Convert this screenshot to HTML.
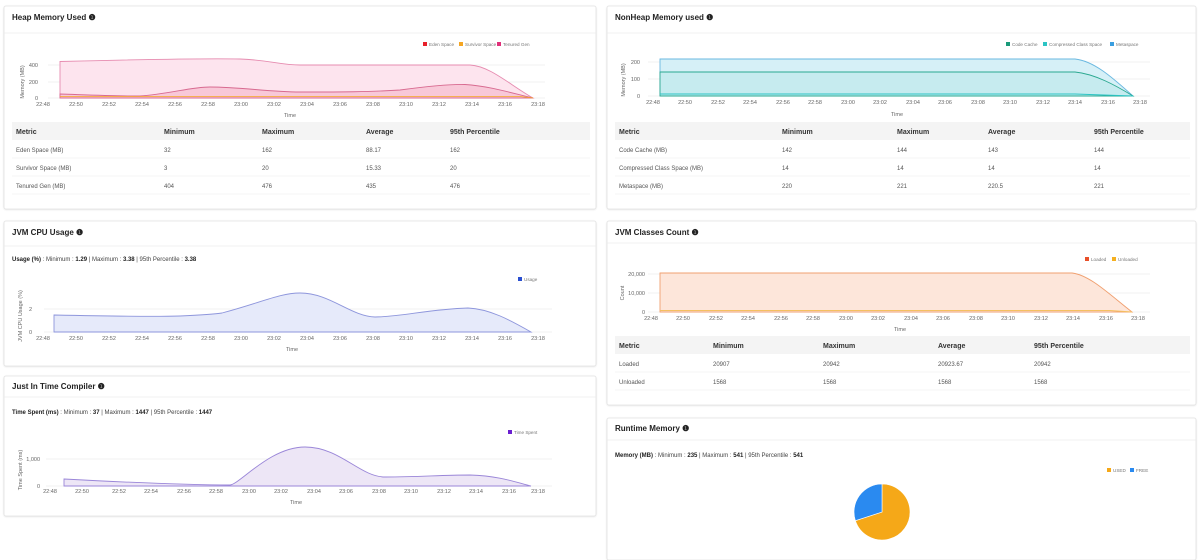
<!DOCTYPE html>
<html><head><meta charset="utf-8"><style>
html,body{margin:0;padding:0;background:#fff;}
svg{display:block;font-family:"Liberation Sans",sans-serif;}
.t{font-size:8px;font-weight:bold;fill:#222;}
.ax{font-size:5.5px;fill:#666;}
.th{font-size:7px;font-weight:bold;fill:#333;}
.td{font-size:6px;fill:#555;}
.sm{font-size:6px;fill:#444;}
.b{font-weight:bold;fill:#222;}
.lg{font-size:4.6px;fill:#777;}
.grid{stroke:#eee;stroke-width:0.7;}
</style></head><body>
<svg width="1200" height="560" viewBox="0 0 1200 560">
<defs><filter id="sh" x="-2%" y="-5%" width="104%" height="110%"><feDropShadow dx="0" dy="0.5" stdDeviation="0.8" flood-color="#000" flood-opacity="0.12"/></filter></defs>
<g fill="#fff" stroke="#e2e2e2" stroke-width="0.8" filter="url(#sh)">
<rect x="4" y="6" width="592" height="203" rx="2"/>
<rect x="607" y="6" width="589" height="203" rx="2"/>
<rect x="4" y="221" width="592" height="145" rx="2"/>
<rect x="4" y="376" width="592" height="140" rx="2"/>
<rect x="607" y="221" width="589" height="184" rx="2"/>
<rect x="607" y="418" width="589" height="142" rx="2"/>
</g>
<g stroke="#ececec" stroke-width="0.8">
<line x1="4" y1="33" x2="596" y2="33"/><line x1="607" y1="33" x2="1196" y2="33"/>
<line x1="4" y1="246" x2="596" y2="246"/><line x1="4" y1="397" x2="596" y2="397"/>
<line x1="607" y1="243" x2="1196" y2="243"/><line x1="607" y1="440" x2="1196" y2="440"/>
</g>
<g class="t">
<text x="12" y="20">Heap Memory Used ❶</text>
<text x="615" y="20">NonHeap Memory used ❶</text>
<text x="12" y="235">JVM CPU Usage ❶</text>
<text x="12" y="389">Just In Time Compiler ❶</text>
<text x="615" y="235">JVM Classes Count ❶</text>
<text x="615" y="431">Runtime Memory ❶</text>
</g>

<!-- HEAP -->
<g class="grid"><line x1="48" y1="65" x2="545" y2="65"/><line x1="48" y1="82" x2="545" y2="82"/><line x1="48" y1="98" x2="545" y2="98"/></g>
<rect x="423" y="42" width="4" height="4" fill="#e8202a"/><text class="lg" x="429" y="46">Eden Space</text>
<rect x="459" y="42" width="4" height="4" fill="#f5a623"/><text class="lg" x="465" y="46">Survivor Space</text>
<rect x="497" y="42" width="4" height="4" fill="#e0307a"/><text class="lg" x="503" y="46">Tenured Gen</text>
<path d="M60,61.5 C120,60 200,58 240,59 C270,60 280,65 300,65 L470,65 C490,66 510,85 533,98 L60,98Z" fill="#fde4ee" stroke="#e68cb0" stroke-width="0.9"/>
<path d="M60,94 C90,95 110,96 140,96 C170,94 190,87 210,87 C240,87 270,92 300,92 C340,92 370,92 400,90 C430,86 450,84 465,84.5 C490,86 515,94 533,98 L60,98Z" fill="#f8c8d8" stroke="#d86a90" stroke-width="0.9"/>
<path d="M60,96.5 L520,96.5 L533,98" fill="none" stroke="#f5a623" stroke-width="0.8"/>
<g class="ax" text-anchor="end"><text x="38" y="67">400</text><text x="38" y="84">200</text><text x="38" y="100">0</text></g>
<text class="ax" transform="translate(24,82) rotate(-90)" text-anchor="middle">Memory (MB)</text>
<g class="ax" text-anchor="middle">
<text x="43" y="106">22:48</text><text x="76" y="106">22:50</text><text x="109" y="106">22:52</text><text x="142" y="106">22:54</text><text x="175" y="106">22:56</text><text x="208" y="106">22:58</text><text x="241" y="106">23:00</text><text x="274" y="106">23:02</text><text x="307" y="106">23:04</text><text x="340" y="106">23:06</text><text x="373" y="106">23:08</text><text x="406" y="106">23:10</text><text x="439" y="106">23:12</text><text x="472" y="106">23:14</text><text x="505" y="106">23:16</text><text x="538" y="106">23:18</text>
<text x="290" y="117">Time</text></g>
<rect x="12" y="122" width="578" height="18" fill="#f4f4f4"/>
<g stroke="#ececec" stroke-width="0.6"><line x1="12" y1="158" x2="590" y2="158"/><line x1="12" y1="176" x2="590" y2="176"/><line x1="12" y1="194" x2="590" y2="194"/></g>
<g class="th"><text x="16" y="134">Metric</text><text x="164" y="134">Minimum</text><text x="262" y="134">Maximum</text><text x="366" y="134">Average</text><text x="450" y="134">95th Percentile</text></g>
<g class="td">
<text x="16" y="152">Eden Space (MB)</text><text x="164" y="152">32</text><text x="262" y="152">162</text><text x="366" y="152">88.17</text><text x="450" y="152">162</text>
<text x="16" y="170">Survivor Space (MB)</text><text x="164" y="170">3</text><text x="262" y="170">20</text><text x="366" y="170">15.33</text><text x="450" y="170">20</text>
<text x="16" y="188">Tenured Gen (MB)</text><text x="164" y="188">404</text><text x="262" y="188">476</text><text x="366" y="188">435</text><text x="450" y="188">476</text>
</g>

<!-- NONHEAP -->
<g class="grid"><line x1="648" y1="62" x2="1150" y2="62"/><line x1="648" y1="79" x2="1150" y2="79"/><line x1="648" y1="96" x2="1150" y2="96"/></g>
<rect x="1006" y="42" width="4" height="4" fill="#1a9a7a"/><text class="lg" x="1012" y="46">Code Cache</text>
<rect x="1043" y="42" width="4" height="4" fill="#2cc4c4"/><text class="lg" x="1049" y="46">Compressed Class Space</text>
<rect x="1110" y="42" width="4" height="4" fill="#3a9ee0"/><text class="lg" x="1116" y="46">Metaspace</text>
<path d="M660,59 L1075,59 C1095,61 1115,80 1133,96 L660,96Z" fill="#d6f0f7" stroke="#6ab8e0" stroke-width="0.9"/>
<path d="M660,72 L1075,72 C1095,74 1115,85 1133,96 L660,96Z" fill="#c6ebef" stroke="#2aa890" stroke-width="0.9"/>
<path d="M660,94 L1075,94 L1133,96" fill="none" stroke="#2cc4c4" stroke-width="0.9"/>
<g class="ax" text-anchor="end"><text x="640" y="64">200</text><text x="640" y="81">100</text><text x="640" y="98">0</text></g>
<text class="ax" transform="translate(625,80) rotate(-90)" text-anchor="middle">Memory (MB)</text>
<g class="ax" text-anchor="middle">
<text x="653" y="104">22:48</text><text x="685" y="104">22:50</text><text x="718" y="104">22:52</text><text x="750" y="104">22:54</text><text x="783" y="104">22:56</text><text x="815" y="104">22:58</text><text x="848" y="104">23:00</text><text x="880" y="104">23:02</text><text x="913" y="104">23:04</text><text x="945" y="104">23:06</text><text x="978" y="104">23:08</text><text x="1010" y="104">23:10</text><text x="1043" y="104">23:12</text><text x="1075" y="104">23:14</text><text x="1108" y="104">23:16</text><text x="1140" y="104">23:18</text>
<text x="897" y="116">Time</text></g>
<rect x="615" y="122" width="575" height="18" fill="#f4f4f4"/>
<g stroke="#ececec" stroke-width="0.6"><line x1="615" y1="158" x2="1190" y2="158"/><line x1="615" y1="176" x2="1190" y2="176"/><line x1="615" y1="194" x2="1190" y2="194"/></g>
<g class="th"><text x="619" y="134">Metric</text><text x="782" y="134">Minimum</text><text x="897" y="134">Maximum</text><text x="988" y="134">Average</text><text x="1094" y="134">95th Percentile</text></g>
<g class="td">
<text x="619" y="152">Code Cache (MB)</text><text x="782" y="152">142</text><text x="897" y="152">144</text><text x="988" y="152">143</text><text x="1094" y="152">144</text>
<text x="619" y="170">Compressed Class Space (MB)</text><text x="782" y="170">14</text><text x="897" y="170">14</text><text x="988" y="170">14</text><text x="1094" y="170">14</text>
<text x="619" y="188">Metaspace (MB)</text><text x="782" y="188">220</text><text x="897" y="188">221</text><text x="988" y="188">220.5</text><text x="1094" y="188">221</text>
</g>

<!-- CPU -->
<text class="sm" x="12" y="261"><tspan class="b">Usage (%)</tspan> : Minimum : <tspan class="b">1.29</tspan>  | Maximum : <tspan class="b">3.38</tspan>  | 95th Percentile : <tspan class="b">3.38</tspan></text>
<rect x="518" y="277" width="4" height="4" fill="#2a4fd0"/><text class="lg" x="524" y="281">Usage</text>
<g class="grid"><line x1="44" y1="309" x2="552" y2="309"/><line x1="44" y1="332" x2="552" y2="332"/></g>
<path d="M54,315 C100,316 150,317 180,316 C200,315 215,314 222,313 C260,303 280,293 300,293 C330,293 350,316 375,317 C400,317 430,309 468,308 C490,309 510,320 531,332 L54,332Z" fill="#e6eafa" stroke="#8e96dc" stroke-width="0.9"/>
<g class="ax" text-anchor="end"><text x="32" y="311">2</text><text x="32" y="334">0</text></g>
<text class="ax" transform="translate(22,316) rotate(-90)" text-anchor="middle">JVM CPU Usage (%)</text>
<g class="ax" text-anchor="middle">
<text x="43" y="340">22:48</text><text x="76" y="340">22:50</text><text x="109" y="340">22:52</text><text x="142" y="340">22:54</text><text x="175" y="340">22:56</text><text x="208" y="340">22:58</text><text x="241" y="340">23:00</text><text x="274" y="340">23:02</text><text x="307" y="340">23:04</text><text x="340" y="340">23:06</text><text x="373" y="340">23:08</text><text x="406" y="340">23:10</text><text x="439" y="340">23:12</text><text x="472" y="340">23:14</text><text x="505" y="340">23:16</text><text x="538" y="340">23:18</text>
<text x="292" y="351">Time</text></g>

<!-- JIT -->
<text class="sm" x="12" y="414"><tspan class="b">Time Spent (ms)</tspan> : Minimum : <tspan class="b">37</tspan>  | Maximum : <tspan class="b">1447</tspan>  | 95th Percentile : <tspan class="b">1447</tspan></text>
<rect x="508" y="430" width="4" height="4" fill="#6a1fd0"/><text class="lg" x="514" y="434">Time Spent</text>
<g class="grid"><line x1="46" y1="459" x2="552" y2="459"/><line x1="46" y1="486" x2="552" y2="486"/></g>
<path d="M64,479 C120,482 180,485 230,485 C240,484 270,447 305,447 C340,447 360,477 385,477 C420,477 440,475 470,475 C500,476 515,482 531,486 L64,486Z" fill="#ede6f6" stroke="#9a86d8" stroke-width="0.9"/>
<g class="ax" text-anchor="end"><text x="40" y="461">1,000</text><text x="40" y="488">0</text></g>
<text class="ax" transform="translate(22,470) rotate(-90)" text-anchor="middle">Time Spent (ms)</text>
<g class="ax" text-anchor="middle">
<text x="50" y="493">22:48</text><text x="82" y="493">22:50</text><text x="119" y="493">22:52</text><text x="151" y="493">22:54</text><text x="184" y="493">22:56</text><text x="216" y="493">22:58</text><text x="249" y="493">23:00</text><text x="281" y="493">23:02</text><text x="314" y="493">23:04</text><text x="346" y="493">23:06</text><text x="379" y="493">23:08</text><text x="411" y="493">23:10</text><text x="444" y="493">23:12</text><text x="476" y="493">23:14</text><text x="509" y="493">23:16</text><text x="538" y="493">23:18</text>
<text x="296" y="504">Time</text></g>

<!-- CLASSES -->
<rect x="1085" y="257" width="4" height="4" fill="#e8502a"/><text class="lg" x="1091" y="261">Loaded</text>
<rect x="1112" y="257" width="4" height="4" fill="#f5b020"/><text class="lg" x="1118" y="261">Unloaded</text>
<g class="grid"><line x1="648" y1="274" x2="1150" y2="274"/><line x1="648" y1="293" x2="1150" y2="293"/><line x1="648" y1="312" x2="1150" y2="312"/></g>
<path d="M660,273 L1072,273 C1090,275 1110,295 1132,312 L660,312Z" fill="#fde6da" stroke="#f0a070" stroke-width="0.9"/>
<path d="M660,310.5 L1110,310.5 L1132,312" fill="none" stroke="#f5c060" stroke-width="0.9"/>
<g class="ax" text-anchor="end"><text x="645" y="276">20,000</text><text x="645" y="295">10,000</text><text x="645" y="314">0</text></g>
<text class="ax" transform="translate(624,293) rotate(-90)" text-anchor="middle">Count</text>
<g class="ax" text-anchor="middle">
<text x="651" y="320">22:48</text><text x="683" y="320">22:50</text><text x="716" y="320">22:52</text><text x="748" y="320">22:54</text><text x="781" y="320">22:56</text><text x="813" y="320">22:58</text><text x="846" y="320">23:00</text><text x="878" y="320">23:02</text><text x="911" y="320">23:04</text><text x="943" y="320">23:06</text><text x="976" y="320">23:08</text><text x="1008" y="320">23:10</text><text x="1041" y="320">23:12</text><text x="1073" y="320">23:14</text><text x="1106" y="320">23:16</text><text x="1138" y="320">23:18</text>
<text x="900" y="331">Time</text></g>
<rect x="615" y="336" width="575" height="18" fill="#f4f4f4"/>
<g stroke="#ececec" stroke-width="0.6"><line x1="615" y1="372" x2="1190" y2="372"/><line x1="615" y1="390" x2="1190" y2="390"/></g>
<g class="th"><text x="619" y="348">Metric</text><text x="713" y="348">Minimum</text><text x="823" y="348">Maximum</text><text x="938" y="348">Average</text><text x="1034" y="348">95th Percentile</text></g>
<g class="td">
<text x="619" y="366">Loaded</text><text x="713" y="366">20907</text><text x="823" y="366">20942</text><text x="938" y="366">20923.67</text><text x="1034" y="366">20942</text>
<text x="619" y="384">Unloaded</text><text x="713" y="384">1568</text><text x="823" y="384">1568</text><text x="938" y="384">1568</text><text x="1034" y="384">1568</text>
</g>

<!-- RUNTIME -->
<text class="sm" x="615" y="457"><tspan class="b">Memory (MB)</tspan> : Minimum : <tspan class="b">235</tspan>  | Maximum : <tspan class="b">541</tspan>  | 95th Percentile : <tspan class="b">541</tspan></text>
<rect x="1107" y="468" width="4" height="4" fill="#f5a818"/><text class="lg" x="1113" y="472">USED</text>
<rect x="1130" y="468" width="4" height="4" fill="#2a8af0"/><text class="lg" x="1136" y="472">FREE</text>
<path d="M882,512 L882,484 A28,28 0 1 1 855.4,520.7 Z" fill="#f5a818" stroke="#fff" stroke-width="0.6"/>
<path d="M882,512 L882,484 A28,28 0 0 0 855.4,520.7 Z" fill="#2a8af0" stroke="#fff" stroke-width="0.6"/>
</svg>
</body></html>
